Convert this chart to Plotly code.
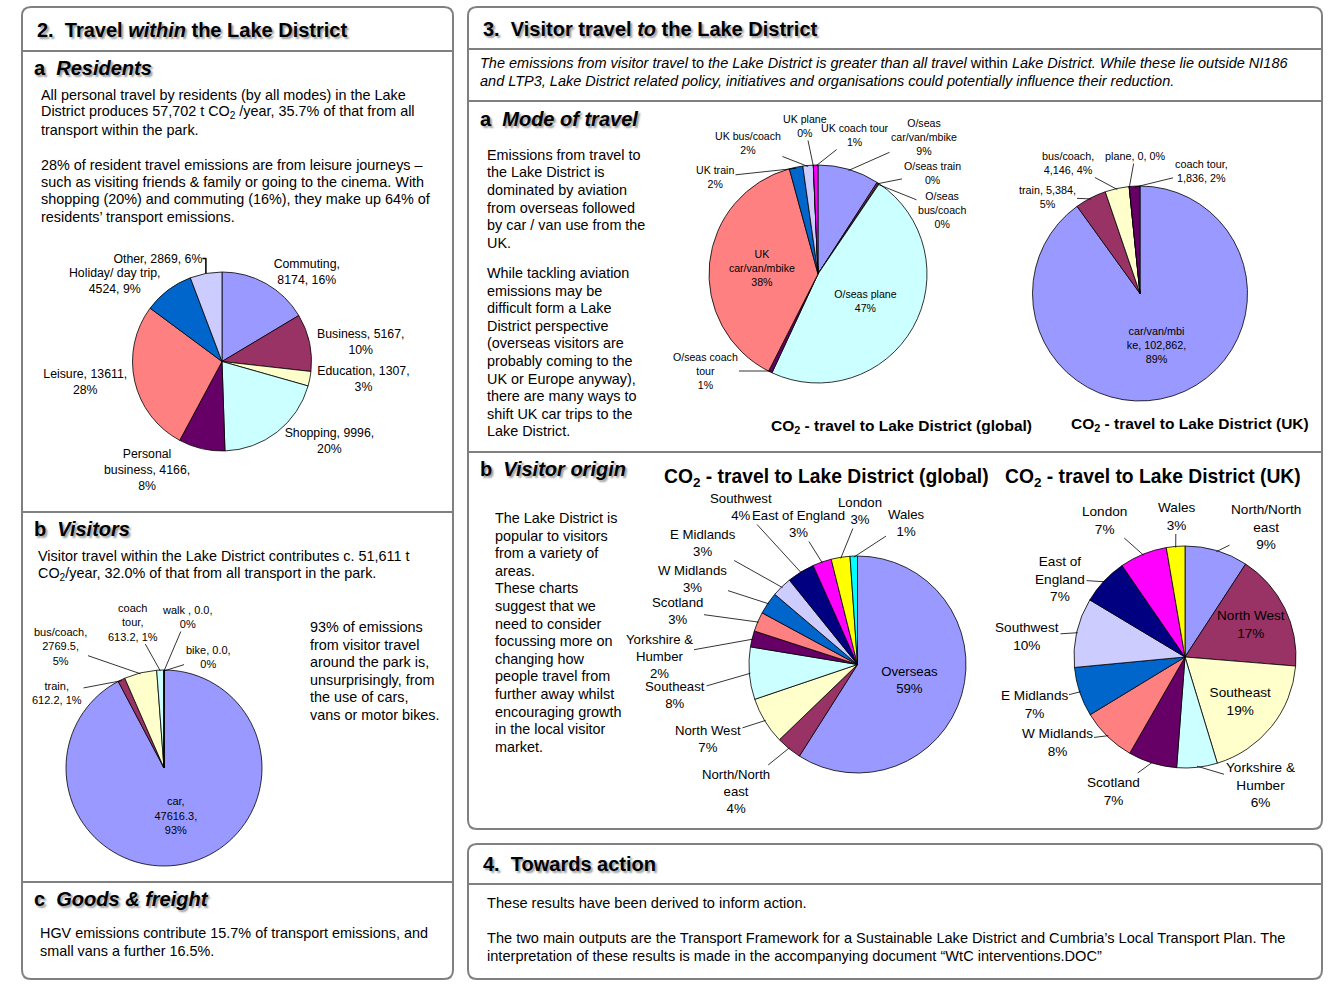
import math
import plotly.graph_objects as go

W, H = 1344, 1008
FONT = "Liberation Sans, Arial, sans-serif"

# ---------------- data ----------------
# 2a Residents (t CO2/year by journey purpose)
res_labels = ["Commuting", "Business", "Education", "Shopping", "Personal<br>business",
              "Leisure", "Holiday/ day trip", "Other"]
res_values = [8174, 5167, 1307, 9996, 4166, 13611, 4524, 2869]
res_pct = ["16%", "10%", "3%", "20%", "8%", "28%", "9%", "6%"]

# 2b Visitors within the park (t CO2/year by mode)
vis_labels = ["car", "train", "bus/coach", "coach<br>tour", "walk ", "bike"]
vis_values = [47616.3, 612.2, 2769.5, 613.2, 0.0, 0.0]
vis_pct = ["93%", "1%", "5%", "1%", "0%", "0%"]

# 3a Mode of travel to the Lake District (global)
mg_labels = ["O/seas<br>car/van/mbike", "O/seas train", "O/seas<br>bus/coach", "O/seas plane",
             "O/seas coach<br>tour", "UK<br>car/van/mbike", "UK train", "UK bus/coach",
             "UK plane", "UK coach tour"]
mg_values = [24500, 700, 300, 127500, 1500, 102862, 5384, 4146, 0, 1836]

# 3a Mode of travel to the Lake District (UK)
mu_labels = ["car/van/mbi<br>ke", "train", "bus/coach", "plane", "coach tour"]
mu_values = [102862, 5384, 4146, 0, 1836]
mu_pct = ["89%", "5%", "4%", "0%", "2%"]

# 3b Visitor origin (global, % of CO2)
og_labels = ["Overseas", "North/North<br>east", "North West", "Southeast", "Yorkshire &<br>Humber",
             "Scotland", "W Midlands", "E Midlands", "Southwest", "East of England",
             "London", "Wales"]
og_values = [59.0, 3.8, 7.0, 7.8, 2.4, 2.9, 3.3, 3.0, 4.1, 2.8, 2.8, 1.1]

# 3b Visitor origin (UK, % of CO2)
ou_labels = ["North/North<br>east", "North West", "Southeast", "Yorkshire &<br>Humber", "Scotland",
             "W Midlands", "E Midlands", "Southwest", "East of<br>England", "London", "Wales"]
ou_values = [9.2, 17.1, 19.0, 5.9, 7.1, 8.0, 7.2, 10.1, 6.8, 6.9, 2.7]

# Excel default chart palette
PAL = ["#9999FF", "#993366", "#FFFFCC", "#CCFFFF", "#660066", "#FF8080",
       "#0066CC", "#CCCCFF", "#000080", "#FF00FF", "#FFFF00", "#00FFFF"]


def X(px):
    return px / W


def Y(py):
    return 1 - py / H


def dom(cx, cy, r):
    return dict(x=[X(cx - r), X(cx + r)], y=[Y(cy + r), Y(cy - r)])


def join3(label, value, pct, b1, b2):
    s1 = "<br>" if b1 else " "
    s2 = "<br>" if b2 else " "
    return f"{label},{s1}{value},{s2}{pct}"


def pct_text(labels, values):
    tot = sum(values)
    return [f"{l}<br>{int(100 * v / tot + 0.5)}%" for l, v in zip(labels, values)]


res_breaks = [(1, 0), (0, 1), (0, 1), (0, 1), (0, 1), (0, 1), (1, 0), (0, 0)]
res_text = [join3(l, v, p, *b) for l, v, p, b in zip(res_labels, res_values, res_pct, res_breaks)]
vis_breaks = [(1, 1), (1, 0), (1, 1), (1, 0), (0, 1), (0, 1)]
vis_text = [join3(l, f"{v:.1f}", p, *b) for l, v, p, b in zip(vis_labels, vis_values, vis_pct, vis_breaks)]
mu_breaks = [(0, 1), (0, 1), (1, 0), (0, 0), (1, 0)]
mu_text = [join3(l, f"{v:,}", p, *b) for l, v, p, b in zip(mu_labels, mu_values, mu_pct, mu_breaks)]
mg_text = pct_text(mg_labels, mg_values)
og_text = pct_text(og_labels, og_values)
ou_text = pct_text(ou_labels, ou_values)


def pie(labels, values, text, positions, cx, cy, r, size):
    return go.Pie(labels=[l.replace("<br>", " ") for l in labels], values=values,
                  text=text, textinfo="text", textposition=positions,
                  marker=dict(colors=PAL[:len(values)], line=dict(color="black", width=0.8)),
                  sort=False, direction="clockwise", rotation=0,
                  domain=dom(cx, cy, r), showlegend=False,
                  textfont=dict(family=FONT, size=size, color="black"),
                  insidetextorientation="horizontal", hoverinfo="label+value+percent")


ann = []


def slice_labels(values, texts, cx, cy, r, label_pos, size):
    """Labels placed beside the pie with a leader line to the middle of each slice's rim."""
    tot = sum(values)
    cum = 0.0
    for v, t, pos in zip(values, texts, label_pos):
        mid = cum + v / 2.0
        cum += v
        if pos is None:
            continue
        th = 2 * math.pi * mid / tot
        ex = cx + 0.99 * r * math.sin(th)
        ey = cy - 0.99 * r * math.cos(th)
        ann.append(dict(text=t, x=X(ex), y=Y(ey), ax=pos[0] - ex, ay=pos[1] - ey,
                        xref="paper", yref="paper", axref="pixel", ayref="pixel",
                        showarrow=True, arrowhead=0, arrowwidth=0.8, arrowcolor="black",
                        standoff=0, startstandoff=0,
                        font=dict(family=FONT, size=size, color="black")))


fig = go.Figure()
# residents
fig.add_trace(pie(res_labels, res_values, res_text, "outside", 222, 361.5, 89.5, 12.3))
# visitors
VIS = (164, 768, 98)
fig.add_trace(pie(vis_labels, vis_values, vis_text,
                  ["inside"] + ["none"] * 5, *VIS, 11))
slice_labels(vis_values, vis_text, *VIS,
             [None, (57, 693), (60, 646), (133, 622), (187, 617), (208, 657)], 11)
# mode global
MG = (818, 274, 109)
fig.add_trace(pie(mg_labels, mg_values, mg_text,
                  ["none", "none", "none", "inside", "none", "inside", "none", "none", "none", "none"],
                  *MG, 10.6))
slice_labels(mg_values, mg_text, *MG,
             [(924, 137), (932, 173), (942, 210), None, (705, 371), None,
              (715, 177), (748, 143), (805, 126), (855, 135)], 10.6)
# mode UK
MU = (1140, 293.5, 107.5)
fig.add_trace(pie(mu_labels, mu_values, mu_text,
                  ["inside"] + ["none"] * 4, *MU, 10.8))
slice_labels(mu_values, mu_text, *MU,
             [None, (1047, 197), (1068, 163), (1135, 156), (1201, 171)], 10.8)
# origin global
OG = (857.5, 664.5, 108.5)
fig.add_trace(pie(og_labels, og_values, og_text,
                  ["inside"] + ["none"] * 11, *OG, 13.2))
slice_labels(og_values, og_text, *OG,
             [None, (736, 791), (708, 739), (675, 695), (659, 656), (677, 611), (692, 579),
              (703, 543), (741, 507), (798, 524), (860, 511), (906, 523)], 13.2)
# origin UK
OU = (1185, 657, 111)
fig.add_trace(pie(ou_labels, ou_values, ou_text,
                  ["none", "inside", "inside"] + ["none"] * 8, *OU, 13.6))
slice_labels(ou_values, ou_text, *OU,
             [(1266, 527), None, None, (1260, 785), (1113, 791), (1057, 742), (1034, 704),
              (1027, 636), (1060, 579), (1104, 520), (1176, 516)], 13.6)

# ---------------- frames ----------------
shapes = []
GREY = "#808080"


def rrect(x0, y0, x1, y1, r=9):
    p = (f"M {X(x0 + r)},{Y(y0)} L {X(x1 - r)},{Y(y0)} Q {X(x1)},{Y(y0)} {X(x1)},{Y(y0 + r)} "
         f"L {X(x1)},{Y(y1 - r)} Q {X(x1)},{Y(y1)} {X(x1 - r)},{Y(y1)} "
         f"L {X(x0 + r)},{Y(y1)} Q {X(x0)},{Y(y1)} {X(x0)},{Y(y1 - r)} "
         f"L {X(x0)},{Y(y0 + r)} Q {X(x0)},{Y(y0)} {X(x0 + r)},{Y(y0)} Z")
    shapes.append(dict(type="path", path=p, xref="paper", yref="paper",
                       line=dict(color=GREY, width=2), layer="below"))


def hline(x0, x1, y):
    shapes.append(dict(type="line", xref="paper", yref="paper", x0=X(x0), x1=X(x1),
                       y0=Y(y), y1=Y(y), line=dict(color=GREY, width=2), layer="below"))


rrect(22, 7, 453, 979)
hline(22, 453, 51)
hline(22, 453, 512)
hline(22, 453, 882)
rrect(468, 7, 1322, 829)
hline(468, 1322, 49)
hline(468, 1322, 101)
hline(468, 1322, 452)
rrect(468, 844, 1322, 979)
hline(468, 1322, 884)

# ---------------- text ----------------
NB = "\u00a0"


def txt(s, x, y, size, xanchor="left", shadow=None, family=FONT):
    f = dict(size=size, family=family, color="black")
    if shadow:
        f["shadow"] = shadow
    ann.append(dict(text=s, x=X(x), y=Y(y), xref="paper", yref="paper", xanchor=xanchor,
                    yanchor="middle", showarrow=False, font=f))


def block(lines, x, y0, dy, size, **kw):
    for i, ln in enumerate(lines):
        if ln:
            txt(ln, x, y0 + i * dy, size, **kw)


SH = "2px 2px 2px #9a9a9a"
BODY = 14.4
txt(f"<b>2.{NB} Travel <i>within</i> the Lake District</b>", 35, 30, 20, shadow=SH)
txt(f"<b>a{NB} <i>Residents</i></b>", 32, 68, 20, shadow=SH)
block(["All personal travel by residents (by all modes) in the Lake",
       "District produces 57,702 t CO<sub>2</sub> /year, 35.7% of that from all",
       "transport within the park.",
       "",
       "28% of resident travel emissions are from leisure journeys –",
       "such as visiting friends & family or going to the cinema. With",
       "shopping (20%) and commuting (16%), they make up 64% of",
       "residents’ transport emissions."], 39, 95, 17.4, BODY)
txt(f"<b>b{NB} <i>Visitors</i></b>", 32, 529, 20, shadow=SH)
block(["Visitor travel within the Lake District contributes c. 51,611 t",
       "CO<sub>2</sub>/year, 32.0% of that from all transport in the park."], 36, 556, 17.5, BODY)
block(["93% of emissions", "from visitor travel", "around the park is,",
       "unsurprisingly, from", "the use of cars,", "vans or motor bikes."], 308, 627, 17.5, BODY)
txt(f"<b>c{NB} <i>Goods & freight</i></b>", 32, 899, 20, shadow=SH)
block(["HGV emissions contribute 15.7% of transport emissions, and",
       "small vans a further 16.5%."], 38, 933, 17.8, BODY)

txt(f"<b>3.{NB} Visitor travel <i>to</i> the Lake District</b>", 481, 29, 20, shadow=SH)
block(["<i>The emissions from visitor travel </i>to<i> the Lake District is greater than all travel </i>"
       "within<i> Lake District. While these lie outside NI186</i>",
       "<i>and LTP3, Lake District related policy, initiatives and organisations could potentially "
       "influence their reduction.</i>"], 478, 63, 18, 14.5)
txt(f"<b>a{NB} <i>Mode of travel</i></b>", 478, 119, 20, shadow=SH)
block(["Emissions from travel to", "the Lake District is", "dominated by aviation",
       "from overseas followed", "by car / van use from the", "UK."], 485, 155, 17.5, BODY)
block(["While tackling aviation", "emissions may be", "difficult form a Lake",
       "District perspective", "(overseas visitors are", "probably coming to the",
       "UK or Europe anyway),", "there are many ways to", "shift UK car trips to the",
       "Lake District."], 485, 273, 17.6, BODY)
txt("<b>CO<sub>2</sub> - travel to Lake District (global)</b>", 902, 426, 15.5, xanchor="center")
txt("<b>CO<sub>2</sub> - travel to Lake District (UK)</b>", 1190, 424, 15.5, xanchor="center")

txt(f"<b>b{NB} <i>Visitor origin</i></b>", 478, 469, 20, shadow=SH)
block(["The Lake District is", "popular to visitors", "from a variety of", "areas.",
       "These charts", "suggest that we", "need to consider", "focussing more on",
       "changing how", "people travel from", "further away whilst", "encouraging growth",
       "in the local visitor", "market."], 493, 518, 17.6, BODY)
txt("<b>CO<sub>2</sub> - travel to Lake District (global)</b>", 826, 478, 19.3, xanchor="center")
txt("<b>CO<sub>2</sub> - travel to Lake District (UK)</b>", 1153, 478, 19.3, xanchor="center")

txt(f"<b>4.{NB} Towards action</b>", 481, 864, 20, shadow=SH)
txt("These results have been derived to inform action.", 485, 903, 14.6)
block(["The two main outputs are the Transport Framework for a Sustainable Lake District and "
       "Cumbria’s Local Transport Plan. The",
       "interpretation of these results is made in the accompanying document “WtC interventions.DOC”"],
      485, 938, 18, 14.6)

fig.update_layout(width=W, height=H, margin=dict(l=0, r=0, t=0, b=0),
                  paper_bgcolor="white", plot_bgcolor="white",
                  shapes=shapes, annotations=ann, showlegend=False,
                  font=dict(family=FONT, color="black"))
fig.write_html("out.html", config={"displayModeBar": False},
               post_script="document.body.style.margin='0px';document.body.style.overflow='hidden';")
